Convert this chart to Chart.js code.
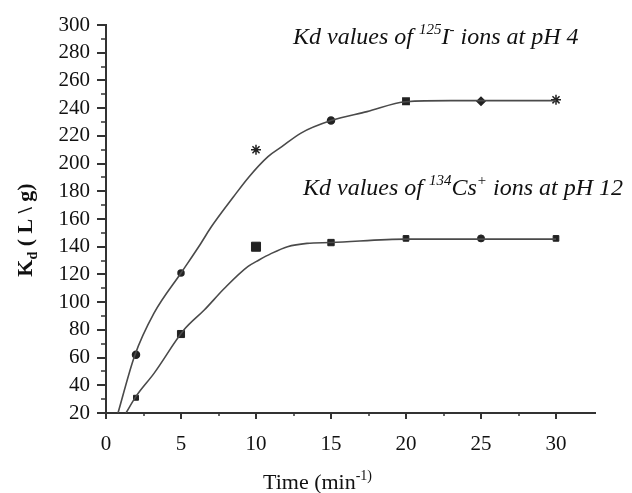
<!DOCTYPE html>
<html>
<head>
<meta charset="utf-8">
<script src="https://cdn.jsdelivr.net/npm/chart.js@4.4.1/dist/chart.umd.min.js"></script>
<style>
  html, body { margin: 0; padding: 0; background: #fff; }
  #wrap { width: 632px; height: 493px; }
</style>
</head>
<body>
<div id="wrap"><canvas id="kd" width="632" height="493"></canvas></div>
<script>
// measured points (time, min)
const times = [2, 5, 10, 15, 20, 25, 30];
const iodideKd = [62, 121, 210, 231, 245, 245, 246];
const cesiumKd = [31, 77, 140, 143, 146, 146, 146];

// fitted curves
const iodideFitX = [0.8, 1.9, 3.2, 5, 6.3, 7, 8.5, 9.5, 10.8, 11.7, 13, 15, 17.4, 20, 23, 30];
const iodideFitY = [20, 61, 92, 121, 142, 154, 176, 190, 205, 212, 222, 231, 237.5, 244.6, 245.4, 245.4];
const cesiumFitX = [1.33, 2, 3.2, 5.2, 6.55, 7.9, 9.45, 10.2, 11, 12.1, 13.4, 15, 20, 30];
const cesiumFitY = [20, 32, 48.6, 80, 94.3, 110, 125.6, 130.4, 135, 140, 142.4, 143, 145.5, 145.5];

const yTicks = [20, 40, 60, 80, 100, 120, 140, 160, 180, 200, 220, 240, 260, 280, 300];
const xTicks = [0, 5, 10, 15, 20, 25, 30];

const serif = "'Liberation Serif', 'Times New Roman', serif";
const ink = "#222";

const pts = (xs, ys) => xs.map((x, i) => ({ x, y: ys[i] }));

// small tick marks: long at labelled values, short in between
const tickMarks = {
  id: "tickMarks",
  afterDraw(chart) {
    const ctx = chart.ctx;
    const xs = chart.scales.x, ys = chart.scales.y;
    ctx.save();
    ctx.strokeStyle = "#333";
    xs.ticks.forEach(t => {
      if (t.value > 30) return;
      const major = xTicks.includes(t.value);
      const px = Math.round(xs.getPixelForValue(t.value));
      ctx.lineWidth = major ? 2 : 1.5;
      ctx.beginPath();
      ctx.moveTo(px, xs.top);
      ctx.lineTo(px, xs.top + (major ? 6 : 3));
      ctx.stroke();
    });
    ys.ticks.forEach(t => {
      const major = yTicks.includes(t.value);
      const py = Math.round(ys.getPixelForValue(t.value));
      ctx.lineWidth = major ? 2 : 1.5;
      ctx.beginPath();
      ctx.moveTo(ys.right - (major ? 9 : 5), py);
      ctx.lineTo(ys.right, py);
      ctx.stroke();
    });
    ctx.restore();
  }
};

// text with super/subscripts
function richText(ctx, parts, x, y, size, style) {
  parts.forEach(p => {
    const s = p.sup || p.sub ? Math.round(size * 0.62) : size;
    ctx.font = style + " " + s + "px " + serif;
    let dy = 0;
    if (p.sup) dy = -size * 0.42;
    if (p.sub) dy = size * 0.22;
    ctx.fillText(p.t, x, y + dy);
    x += ctx.measureText(p.t).width;
  });
  return x;
}
function richWidth(ctx, parts, size, style) {
  let w = 0;
  parts.forEach(p => {
    const s = p.sup || p.sub ? Math.round(size * 0.62) : size;
    ctx.font = style + " " + s + "px " + serif;
    w += ctx.measureText(p.t).width;
  });
  return w;
}

const labels = {
  id: "labels",
  afterDraw(chart) {
    const ctx = chart.ctx;
    ctx.save();
    ctx.fillStyle = "#111";
    ctx.textBaseline = "alphabetic";
    ctx.textAlign = "left";

    richText(ctx, [
      { t: "Kd values of " }, { t: "125", sup: true }, { t: "I" }, { t: "-", sup: true },
      { t: " ions at pH 4" }
    ], 293, 44, 24, "italic");

    richText(ctx, [
      { t: "Kd values of " }, { t: "134", sup: true }, { t: "Cs" }, { t: "+", sup: true },
      { t: " ions at pH 12" }
    ], 303, 195, 24, "italic");

    // x title
    richText(ctx, [{ t: "Time (min" }, { t: "-1)", sup: true }], 263, 489, 22, "normal");

    // y title, rotated
    const yParts = [{ t: "K" }, { t: "d", sub: true }, { t: " ( L \\ g)" }];
    const w = richWidth(ctx, yParts, 22, "bold");
    ctx.translate(32, 230);
    ctx.rotate(-Math.PI / 2);
    richText(ctx, yParts, -w / 2, 0, 22, "bold");
    ctx.restore();
  }
};

new Chart(document.getElementById("kd"), {
  type: "scatter",
  data: {
    datasets: [
      {
        label: "125I- fit",
        data: pts(iodideFitX, iodideFitY),
        showLine: true,
        borderColor: "#4a4a4a",
        borderWidth: 1.6,
        pointRadius: 0,
        cubicInterpolationMode: "monotone"
      },
      {
        label: "134Cs+ fit",
        data: pts(cesiumFitX, cesiumFitY),
        showLine: true,
        borderColor: "#4a4a4a",
        borderWidth: 1.6,
        pointRadius: 0,
        cubicInterpolationMode: "monotone"
      },
      {
        label: "125I-",
        data: pts(times, iodideKd),
        pointStyle: ["circle", "circle", "star", "circle", "rect", "rectRot", "star"],
        pointRadius: [3.5, 3, 5, 3.5, 4.5, 4, 5],
        pointBorderWidth: 1.5,
        backgroundColor: ink,
        borderColor: ink
      },
      {
        label: "134Cs+",
        data: pts(times, cesiumKd),
        pointStyle: ["rect", "rect", "rect", "rect", "rect", "circle", "rect"],
        pointRadius: [3.5, 5, 6.4, 4.5, 4, 3.5, 4],
        pointBorderWidth: 1,
        backgroundColor: ink,
        borderColor: ink
      }
    ]
  },
  options: {
    responsive: false,
    animation: false,
    events: [],
    layout: { padding: { left: 0, top: 25, right: 37, bottom: 0 } },
    plugins: {
      legend: { display: false },
      tooltip: { enabled: false }
    },
    scales: {
      x: {
        type: "linear",
        min: 0,
        max: 32.6,
        afterFit: s => { s.height = 80; },
        grid: { display: false },
        border: { display: true, color: "#333", width: 2 },
        ticks: {
          stepSize: 2.5,
          autoSkip: false,
          maxRotation: 0,
          padding: 11,
          color: "#111",
          font: { family: serif, size: 21 },
          callback: v => (xTicks.includes(v) ? String(v) : "")
        }
      },
      y: {
        type: "linear",
        min: 20,
        max: 300,
        afterFit: s => { s.width = 106; },
        grid: { display: false },
        border: { display: true, color: "#333", width: 2 },
        ticks: {
          stepSize: 10,
          autoSkip: false,
          padding: 8,
          color: "#111",
          font: { family: serif, size: 21 },
          callback: v => (yTicks.includes(v) ? String(v) : "")
        }
      }
    }
  },
  plugins: [tickMarks, labels]
});
</script>
</body>
</html>
